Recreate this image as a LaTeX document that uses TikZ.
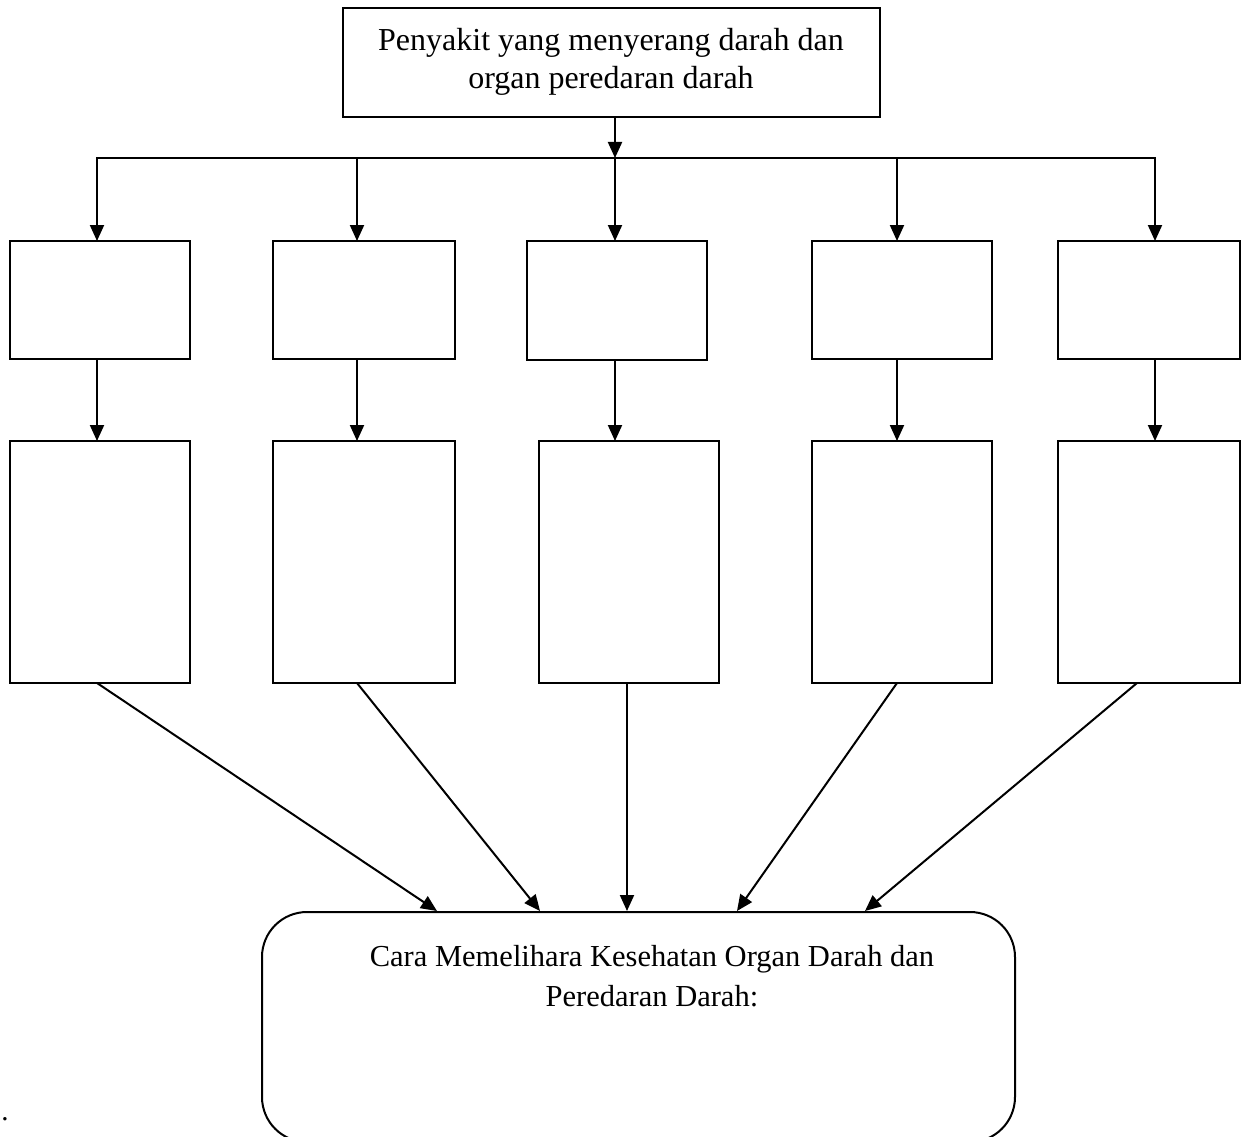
\documentclass[tikz,border=0pt]{standalone}
\usepackage{fontspec}
\setmainfont{Liberation Serif}
\usetikzlibrary{arrows.meta}
\begin{document}
\begin{tikzpicture}[x=1pt,y=-1pt, line width=2pt,
  box/.style={draw, rectangle, inner sep=0pt, outer sep=0pt},
  arr/.style={-{Triangle[length=16pt,width=14pt]}},
  txt/.style={font=\fontsize{32}{38}\selectfont, align=center, inner sep=0pt},
  btxt/.style={font=\fontsize{30.5}{40}\selectfont, align=center, inner sep=0pt}]
\useasboundingbox (0,0) rectangle (1248,1137);
% top box
\node[box, minimum width=537pt, minimum height=109pt] (top) at (611.5,62.5) {};
\node[txt] (toptxt) at (611,62) {Penyakit yang menyerang darah dan\\organ peredaran darah};
% row 1
\node[box, minimum width=180pt, minimum height=118pt] (r1a) at (100,300) {};
\node[box, minimum width=182pt, minimum height=118pt] (r1b) at (364,300) {};
\node[box, minimum width=180pt, minimum height=119pt] (r1c) at (617,300.5) {};
\node[box, minimum width=180pt, minimum height=118pt] (r1d) at (902,300) {};
\node[box, minimum width=182pt, minimum height=118pt] (r1e) at (1149,300) {};
% row 2
\node[box, minimum width=180pt, minimum height=242pt] (r2a) at (100,562) {};
\node[box, minimum width=182pt, minimum height=242pt] (r2b) at (364,562) {};
\node[box, minimum width=180pt, minimum height=242pt] (r2c) at (629,562) {};
\node[box, minimum width=180pt, minimum height=242pt] (r2d) at (902,562) {};
\node[box, minimum width=182pt, minimum height=242pt] (r2e) at (1149,562) {};
% bottom box
\node[draw, rounded corners=45pt, minimum width=753pt, minimum height=230pt, inner sep=0pt] (bot) at (638.5,1027) {};
\node[btxt] (bottxt) at (652,976) {Cara Memelihara Kesehatan Organ Darah dan\\Peredaran Darah:};
\node[font=\fontsize{29}{39}\selectfont, inner sep=0pt, anchor=base] (dot) at (5,1120) {.};
% bus coordinates
\coordinate (j1) at (97,158);
\coordinate (j2) at (357,158);
\coordinate (j3) at (615,158);
\coordinate (j4) at (897,158);
\coordinate (j5) at (1155,158);
% top arrow
\draw[arr] (top.south -| j3) -- (j3);
% bus and drops
\draw[arr] (j3) -- (j1) -- (j1 |- r1a.north);
\draw[arr] (j3) -- (j5) -- (j5 |- r1e.north);
\draw[arr] (j2) -- (j2 |- r1b.north);
\draw[arr] (j3) -- (j3 |- r1c.north);
\draw[arr] (j4) -- (j4 |- r1d.north);
% row1 to row2
\draw[arr] (j1 |- r1a.south) -- (j1 |- r2a.north);
\draw[arr] (j2 |- r1b.south) -- (j2 |- r2b.north);
\draw[arr] (j3 |- r1c.south) -- (j3 |- r2c.north);
\draw[arr] (j4 |- r1d.south) -- (j4 |- r2d.north);
\draw[arr] (j5 |- r1e.south) -- (j5 |- r2e.north);
% targets on bottom box
\coordinate (t1) at (437,912);
\coordinate (t2) at (540,912);
\coordinate (t3) at (627,912);
\coordinate (t4) at (737,912);
\coordinate (t5) at (865,912);
\coordinate (s5) at (1137,683);
\draw[arr] (j1 |- r2a.south) -- (t1 |- bot.north);
\draw[arr] (j2 |- r2b.south) -- (t2 |- bot.north);
\draw[arr] (t3 |- r2c.south) -- (t3 |- bot.north);
\draw[arr] (j4 |- r2d.south) -- (t4 |- bot.north);
\draw[arr] (s5 |- r2e.south) -- (t5 |- bot.north);
\end{tikzpicture}
\end{document}
